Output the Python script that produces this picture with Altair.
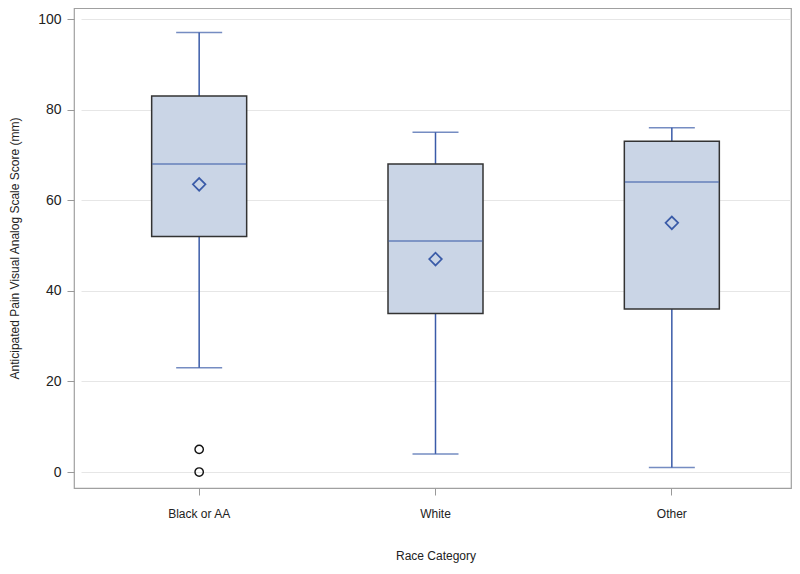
import altair as alt
import pandas as pd

categories = ["Black or AA", "White", "Other"]
lower_whisker = [23, 4, 1]
q1 = [52, 35, 36]
median = [68, 51, 64]
q3 = [83, 68, 73]
upper_whisker = [97, 75, 76]
mean = [63.5, 47, 55]
outlier_cat = ["Black or AA", "Black or AA"]
outlier_val = [5, 0]

box = pd.DataFrame({"cat": categories, "lo": lower_whisker, "q1": q1, "med": median,
                    "q3": q3, "hi": upper_whisker, "mean": mean})
out = pd.DataFrame({"cat": outlier_cat, "val": outlier_val})

BLUE = "#3A5BA8"
FONT = "Liberation Sans"

xscale = alt.Scale(range=[7, 716], paddingInner=0, paddingOuter=0)
xenc = alt.X("cat:N", sort=categories, title="Race Category", scale=xscale,
             axis=alt.Axis(labelAngle=0, labelFontSize=12, labelColor="#222", labelFont=FONT,
                           titleFontSize=12, titleFont=FONT, titleFontWeight="normal", titleColor="#222",
                           titlePadding=31, labelPadding=13, tickSize=7, tickColor="#999",
                           domain=False, grid=False))
yscale = alt.Scale(domain=[-3.53, 102.43], nice=False, zero=False)
yenc_title = "Anticipated Pain Visual Analog Scale Score (mm)"

base = alt.Chart(box)

whisk_hi = base.mark_rule(color=BLUE, strokeWidth=1.5).encode(
    x=xenc,
    y=alt.Y("q3:Q", scale=yscale, title=yenc_title,
            axis=alt.Axis(values=[0, 20, 40, 60, 80, 100], labelFontSize=14, labelColor="#222",
                          labelFont=FONT, titleFont=FONT, titleFontSize=12, titleFontWeight="normal",
                          titleColor="#222", titlePadding=16, tickSize=7, tickColor="#999",
                          labelPadding=6, domain=False, grid=True, gridColor="#E6E6E6")),
    y2="hi:Q")
whisk_lo = base.mark_rule(color=BLUE, strokeWidth=1.5).encode(
    x=alt.X("cat:N", sort=categories, scale=xscale), y=alt.Y("lo:Q", scale=yscale), y2="q1:Q")
caps_hi = base.mark_tick(color=BLUE, size=46, thickness=1.5).encode(
    x=alt.X("cat:N", sort=categories, scale=xscale), y=alt.Y("hi:Q", scale=yscale))
caps_lo = base.mark_tick(color=BLUE, size=46, thickness=1.5).encode(
    x=alt.X("cat:N", sort=categories, scale=xscale), y=alt.Y("lo:Q", scale=yscale))
boxes = base.mark_bar(size=95, fill="#CAD5E6", stroke="#333333", strokeWidth=1.5).encode(
    x=alt.X("cat:N", sort=categories, scale=xscale), y=alt.Y("q1:Q", scale=yscale), y2="q3:Q")
med = base.mark_tick(color=BLUE, size=94, thickness=1.5).encode(
    x=alt.X("cat:N", sort=categories, scale=xscale), y=alt.Y("med:Q", scale=yscale))
means = base.mark_point(shape="diamond", filled=False, color=BLUE, size=160, strokeWidth=1.7,
                        opacity=1).encode(
    x=alt.X("cat:N", sort=categories, scale=xscale), y=alt.Y("mean:Q", scale=yscale))
outs = alt.Chart(out).mark_point(shape="circle", filled=False, color="#111", size=70,
                                 strokeWidth=1.4, opacity=1).encode(
    x=alt.X("cat:N", sort=categories, scale=xscale), y=alt.Y("val:Q", scale=yscale))

chart = alt.layer(whisk_hi, whisk_lo, caps_hi, caps_lo, boxes, med, means, outs).properties(
    width=717, height=480,
    autosize=alt.AutoSizeParams(type="none"),
    padding={"left": 66, "top": 0, "right": 1, "bottom": 78},
    background="white",
).configure_view(stroke="#A0A0A0", strokeWidth=1.2)

chart.save("out.html", embed_options={"renderer": "svg", "actions": False})
